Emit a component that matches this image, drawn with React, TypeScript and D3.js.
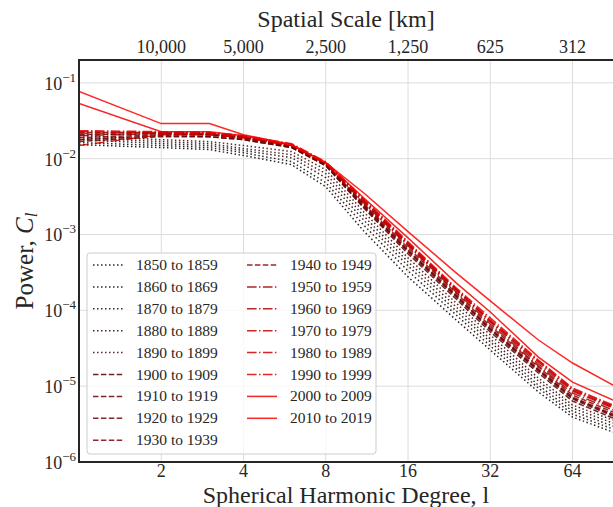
import React from 'react';
import * as d3 from 'd3';

const degrees = [1, 2, 3, 4, 6, 8, 11, 16, 24, 32, 48, 64, 90];

const decades = [
  '1850 to 1859', '1860 to 1869', '1870 to 1879', '1880 to 1889', '1890 to 1899',
  '1900 to 1909', '1910 to 1919', '1920 to 1929', '1930 to 1939', '1940 to 1949',
  '1950 to 1959', '1960 to 1969', '1970 to 1979', '1980 to 1989', '1990 to 1999',
  '2000 to 2009', '2010 to 2019',
];

// power C_l per decade (same order as degrees)
const p1850 = [0.0153, 0.014, 0.0132, 0.011, 0.00833, 0.00427, 0.00112, 2.76e-4, 7.47e-5, 3.0e-5, 8.37e-6, 3.91e-6, 2.48e-6];
const p1860 = [0.0163, 0.0149, 0.014, 0.012, 0.00913, 0.00482, 0.00134, 3.31e-4, 8.69e-5, 3.39e-5, 9.44e-6, 4.28e-6, 2.72e-6];
const p1870 = [0.0178, 0.0158, 0.0149, 0.0128, 0.0103, 0.00561, 0.00156, 3.86e-4, 9.82e-5, 3.83e-5, 1.03e-5, 4.69e-6, 2.97e-6];
const p1880 = [0.0189, 0.0168, 0.0158, 0.0136, 0.0113, 0.00634, 0.00177, 4.36e-4, 1.11e-4, 4.19e-5, 1.17e-5, 5.15e-6, 3.26e-6];
const p1890 = [0.0201, 0.0178, 0.0168, 0.0149, 0.0124, 0.00716, 0.002, 4.92e-4, 1.25e-4, 4.73e-5, 1.28e-5, 5.64e-6, 3.57e-6];
const p1900 = [0.0178, 0.0201, 0.0195, 0.0178, 0.014, 0.00809, 0.00225, 5.56e-4, 1.41e-4, 5.19e-5, 1.49e-5, 6.36e-6, 3.79e-6];
const p1910 = [0.0207, 0.0214, 0.0207, 0.0189, 0.0144, 0.00833, 0.00239, 6.09e-4, 1.55e-4, 5.68e-5, 1.63e-5, 6.97e-6, 4.15e-6];
const p1920 = [0.0168, 0.0195, 0.0195, 0.0178, 0.014, 0.00809, 0.00232, 5.91e-4, 1.5e-4, 5.51e-5, 1.58e-5, 6.76e-6, 4.03e-6];
const p1930 = [0.0189, 0.0207, 0.0207, 0.0184, 0.0144, 0.00833, 0.00247, 6.28e-4, 1.6e-4, 5.85e-5, 1.68e-5, 7.18e-6, 4.28e-6];
const p1940 = [0.0221, 0.0221, 0.0214, 0.0195, 0.0149, 0.00859, 0.00255, 6.67e-4, 1.7e-4, 6.22e-5, 1.79e-5, 7.63e-6, 4.55e-6];
const p1950 = [0.0201, 0.0214, 0.0207, 0.0189, 0.0149, 0.00859, 0.00262, 7.09e-4, 1.75e-4, 6.61e-5, 1.85e-5, 8.11e-6, 4.84e-6];
const p1960 = [0.0227, 0.0221, 0.0214, 0.0195, 0.0153, 0.00885, 0.00279, 7.54e-4, 1.86e-4, 7.03e-5, 1.96e-5, 8.62e-6, 5.15e-6];
const p1970 = [0.0149, 0.0207, 0.0207, 0.0189, 0.0149, 0.00859, 0.0027, 7.31e-4, 1.86e-4, 7.24e-5, 2.08e-5, 8.89e-6, 5.3e-6];
const p1980 = [0.0214, 0.0221, 0.0221, 0.0201, 0.0153, 0.00885, 0.00287, 7.77e-4, 1.92e-4, 7.47e-5, 2.15e-5, 9.17e-6, 5.47e-6];
const p1990 = [0.0234, 0.0227, 0.0221, 0.0201, 0.0158, 0.00913, 0.00296, 8.02e-4, 1.98e-4, 7.94e-5, 2.21e-5, 9.44e-6, 5.64e-6];
const p2000 = [0.0533, 0.0227, 0.0227, 0.0201, 0.0153, 0.00885, 0.00305, 9.04e-4, 2.3e-4, 9.52e-5, 2.42e-5, 1.13e-5, 6.56e-6];
const p2010 = [0.0767, 0.029, 0.029, 0.0207, 0.0153, 0.00885, 0.00355, 1.09e-3, 3.12e-4, 1.33e-4, 4.06e-5, 2.02e-5, 1.03e-5];

const powers = [p1850, p1860, p1870, p1880, p1890, p1900, p1910, p1920, p1930,
  p1940, p1950, p1960, p1970, p1980, p1990, p2000, p2010];

const lineKinds = ['dot', 'dot', 'dot', 'dot', 'dot', 'dash', 'dash', 'dash', 'dash', 'dash',
  'dashdot', 'dashdot', 'dashdot', 'dashdot', 'dashdot', 'solid', 'solid'];

const xTicks = [2, 4, 8, 16, 32, 64];
const kmLabels = ['10,000', '5,000', '2,500', '1,250', '625', '312'];
const yTicks = [1e-1, 1e-2, 1e-3, 1e-4, 1e-5, 1e-6];

const W = 613;
const H = 507;
const left = 79, right = 613, top = 60, bottom = 462;
const font = "'Liberation Serif', 'Times New Roman', serif";
const ink = '#262626';

const dashes: Record<string, string> = {
  dot: '1.5,2.5',
  dash: '5.5,2.4',
  dashdot: '9.6,2.4,1.5,2.4',
  solid: 'none',
};

export default function App() {
  const x = d3.scaleLog().base(2).domain([1, 90]).range([left, right]);
  const y = d3.scaleLog().domain([1e-6, 0.2]).range([bottom, top]);
  const color = (i: number) => d3.interpolateRgb('#000000', '#ff0000')(i / (powers.length - 1));

  const line = d3.line<number>()
    .x((_, i) => x(degrees[i]))
    .y(d => y(d));

  const rowH = 21.9;
  const legX = 87, legY = 253;
  const nCol1 = 9;

  return (
    <div style={{ position: 'absolute', left: 0, top: 0 }}>
      <svg width={W} height={H} style={{ display: 'block', fontFamily: font }}>
        <defs>
          <clipPath id="plot">
            <rect x={left} y={top} width={right - left} height={bottom - top} />
          </clipPath>
        </defs>
        <rect x={0} y={0} width={W} height={H} fill="#fff" />

        {/* grid */}
        {xTicks.map(t => (
          <line key={'gx' + t} x1={x(t)} x2={x(t)} y1={top} y2={bottom} stroke="#dcdcdc" strokeWidth={1} />
        ))}
        {yTicks.map(t => (
          <line key={'gy' + t} x1={left} x2={right} y1={y(t)} y2={y(t)} stroke="#dcdcdc" strokeWidth={1} />
        ))}

        {/* spectra */}
        <g clipPath="url(#plot)">
          {powers.map((p, i) => (
            <path key={decades[i]} d={line(p) || ''} fill="none" stroke={color(i)} strokeOpacity={0.85}
              strokeWidth={1.5} strokeDasharray={dashes[lineKinds[i]]} />
          ))}
        </g>

        {/* spines */}
        <line x1={left} x2={left} y1={top - 1} y2={bottom + 1} stroke={ink} strokeWidth={2} />
        <line x1={left - 1} x2={right} y1={top} y2={top} stroke={ink} strokeWidth={2} />
        <line x1={left - 1} x2={right} y1={bottom} y2={bottom} stroke={ink} strokeWidth={2} />

        {/* bottom ticks */}
        {xTicks.map(t => (
          <text key={'xt' + t} x={x(t)} y={477} textAnchor="middle" fontSize={18} fill={ink}>{t}</text>
        ))}
        {/* top ticks */}
        {xTicks.map((t, i) => (
          <text key={'kt' + t} x={x(t)} y={53} textAnchor="middle" fontSize={18} fill={ink}>{kmLabels[i]}</text>
        ))}
        {/* y ticks */}
        {yTicks.map(t => (
          <text key={'yt' + t} x={76} y={y(t) + 7} textAnchor="end" fontSize={18} fill={ink}>
            10<tspan dy={-8} fontSize={13}>{'\u2212' + Math.round(-Math.log10(t))}</tspan>
          </text>
        ))}

        {/* axis titles */}
        <text x={(left + right) / 2} y={27} textAnchor="middle" fontSize={24} fill={ink}>Spatial Scale [km]</text>
        <text x={(left + right) / 2} y={503} textAnchor="middle" fontSize={24} fill={ink}>Spherical Harmonic Degree, l</text>
        <text transform={`translate(33,261) rotate(-90)`} textAnchor="middle" fontSize={25} fill={ink}>
          Power, <tspan fontStyle="italic">C</tspan><tspan fontStyle="italic" fontSize={17} dy={4}>l</tspan>
        </text>

        {/* legend */}
        <rect x={legX} y={legY} width={289} height={201} rx={3} fill="#fff" fillOpacity={0.8} stroke="#cccccc" strokeWidth={1} />
        {decades.map((d, i) => {
          const col = i < nCol1 ? 0 : 1;
          const row = col === 0 ? i : i - nCol1;
          const lx = col === 0 ? 93 : 247;
          const ly = 265 + row * rowH;
          return (
            <g key={'lg' + d}>
              <line x1={lx} x2={lx + 30} y1={ly} y2={ly} stroke={color(i)} strokeOpacity={0.85}
                strokeWidth={1.5} strokeDasharray={dashes[lineKinds[i]]} />
              <text x={lx + 43} y={ly + 5} fontSize={15.5} fill={ink}>{d}</text>
            </g>
          );
        })}
      </svg>
    </div>
  );
}
